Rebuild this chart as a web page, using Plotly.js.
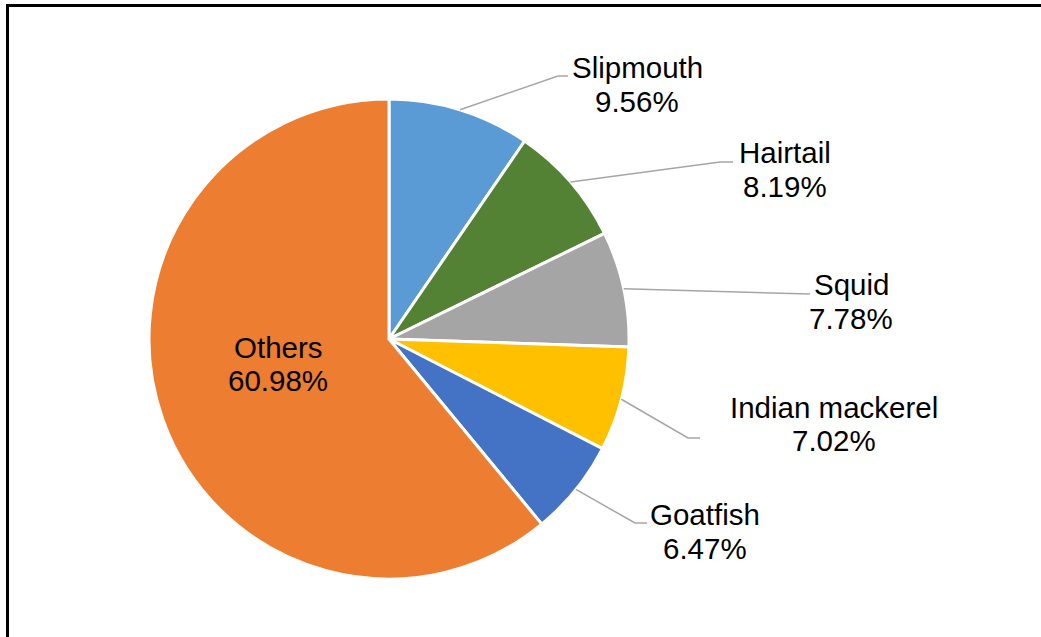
<!DOCTYPE html>
<html>
<head>
<meta charset="utf-8">
<script src="https://cdn.plot.ly/plotly-3.0.1.min.js"></script>
<style>html,body{margin:0;padding:0;background:#fff;}#chart{width:1041px;height:637px;}</style>
</head>
<body>
<div id="chart"></div>
<script>
// ---- data ----
const categories = ["Slipmouth", "Hairtail", "Squid", "Indian mackerel", "Goatfish", "Others"];
const shares = [9.56, 8.19, 7.78, 7.02, 6.47, 60.98];
const colors = ["#5B9BD5", "#548235", "#A5A5A5", "#FFC000", "#4472C4", "#ED7D31"];

// ---- layout constants (pixels) ----
const W = 1041, H = 637;
const CX = 389, CY = 339, R = 240;
// label centres [x, yLine1, yLine2]
const labelPos = [
  [637, 67, 101], [785, 152, 186], [851, 285, 319],
  [834, 407, 440], [705, 514, 548], [278, 347, 380]
];
// leader-line bend points (null = inside label, no leader)
const leaderBends = [
  [[558, 76], [568, 76]],
  [[720, 162], [733, 162]],
  [[810, 294]],
  [[688, 438], [700, 438]],
  [[635, 523], [647, 523]],
  null
];

const px = x => x / W;
const py = y => 1 - y / H;
const FONT = {family: "Liberation Sans, Arial, sans-serif", size: 29.5, color: "#000"};

const total = shares.reduce((a, b) => a + b, 0);
const annotations = [];
const shapes = [];
let cum = 0;
shares.forEach((v, i) => {
  const mid = 2 * Math.PI * (cum + v / 2) / total;
  cum += v;
  const sx = CX + R * Math.sin(mid), sy = CY - R * Math.cos(mid);
  const lp = labelPos[i];
  annotations.push({xref: "paper", yref: "paper", x: px(lp[0]), y: py(lp[1]), text: categories[i],
    showarrow: false, xanchor: "center", yanchor: "middle", font: FONT});
  annotations.push({xref: "paper", yref: "paper", x: px(lp[0]), y: py(lp[2]), text: v.toFixed(2) + "%",
    showarrow: false, xanchor: "center", yanchor: "middle", font: FONT});
  if (leaderBends[i]) {
    let path = "M " + px(sx) + "," + py(sy);
    leaderBends[i].forEach(p => { path += " L " + px(p[0]) + "," + py(p[1]); });
    shapes.push({type: "path", xref: "paper", yref: "paper", path: path,
      line: {color: "#A6A6A6", width: 1.5}});
  }
});

// chart-area border (partially cut off at right/bottom)
shapes.push({type: "rect", xref: "paper", yref: "paper", x0: px(7.5), y0: py(5.5), x1: px(1070), y1: py(670),
  line: {color: "#000", width: 3}, fillcolor: "rgba(0,0,0,0)"});

const trace = {
  type: "pie",
  labels: categories,
  values: shares,
  sort: false,
  direction: "clockwise",
  rotation: 0,
  textinfo: "none",
  hoverinfo: "label+percent",
  marker: {colors: colors, line: {color: "#FFFFFF", width: 3}},
  domain: {x: [px(CX - R), px(CX + R)], y: [py(CY + R), py(CY - R)]},
  showlegend: false
};

const layout = {
  width: W, height: H,
  margin: {l: 0, r: 0, t: 0, b: 0},
  paper_bgcolor: "#fff",
  showlegend: false,
  annotations: annotations,
  shapes: shapes
};

Plotly.newPlot("chart", [trace], layout, {displayModeBar: false, staticPlot: true});
</script>
</body>
</html>
